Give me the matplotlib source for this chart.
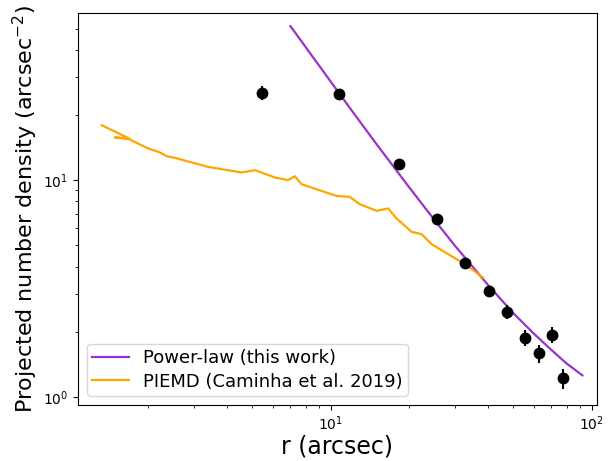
import matplotlib
matplotlib.use("Agg")
import matplotlib.pyplot as plt

# measured galaxy number density profile
r_obs = [5.45, 10.7, 18.3, 25.5, 32.8, 40.2, 47.4, 55.3, 62.6, 70.2, 77.2]
sigma_obs = [25.2, 25.0, 11.9, 6.6, 4.17, 3.08, 2.47, 1.88, 1.59, 1.94, 1.22]
sigma_err = [1.85, 1.0, 0.5, 0.3, 0.2, 0.17, 0.18, 0.16, 0.15, 0.17, 0.13]

# best-fitting power-law profile
r_pl = [7.0, 8.0, 10.0, 12.0, 15.0, 20.0, 25.0, 30.0, 40.0, 50.0, 60.0, 70.0, 80.0, 92.0]
sigma_pl = [51.3, 41.1, 28.4, 21.0, 14.6, 9.24, 6.53, 4.96, 3.29, 2.44, 1.96, 1.65, 1.43, 1.26]

# PIEMD profile from the Caminha et al. (2019) lens model
r_piemd = [1.323, 1.687, 1.487, 1.687, 1.995, 2.212, 2.347, 2.526, 3.388, 4.549,
           5.114, 6.101, 6.862, 7.28, 7.72, 10.51, 11.82, 12.91, 14.97, 16.58,
           17.85, 20.38, 22.26, 24.31, 28.58, 33.11, 38.33]
sigma_piemd = [17.93, 15.57, 15.74, 15.45, 14.0, 13.42, 12.9, 12.67, 11.51, 10.85,
               11.12, 10.29, 10.0, 10.43, 9.58, 8.46, 8.37, 7.75, 7.22, 7.41,
               6.66, 5.78, 5.64, 5.07, 4.51, 4.06, 3.55]

fig = plt.figure(figsize=(6.09, 4.61), dpi=100)
ax = fig.add_axes([0.128, 0.1215, 0.852, 0.8505])

ax.errorbar(r_obs, sigma_obs, yerr=sigma_err, fmt='o', color='black',
            markersize=7.5, elinewidth=1.5, zorder=3)
ax.plot(r_pl, sigma_pl, color='darkorchid', lw=1.6, label='Power-law (this work)')
ax.plot(r_piemd, sigma_piemd, color='orange', lw=1.6,
        label='PIEMD (Caminha et al. 2019)')

ax.set_xscale('log')
ax.set_yscale('log')
ax.set_xlim(1.074, 104.5)
ax.set_ylim(0.92, 59)

ax.set_xlabel('r (arcsec)', fontsize=17, labelpad=1)
ax.set_ylabel('Projected number density (arcsec$^{-2}$)', fontsize=16, labelpad=2)
ax.legend(loc='lower left', fontsize=13, labelspacing=0.3, borderpad=0.3)

fig.savefig('out.png', dpi=100)
